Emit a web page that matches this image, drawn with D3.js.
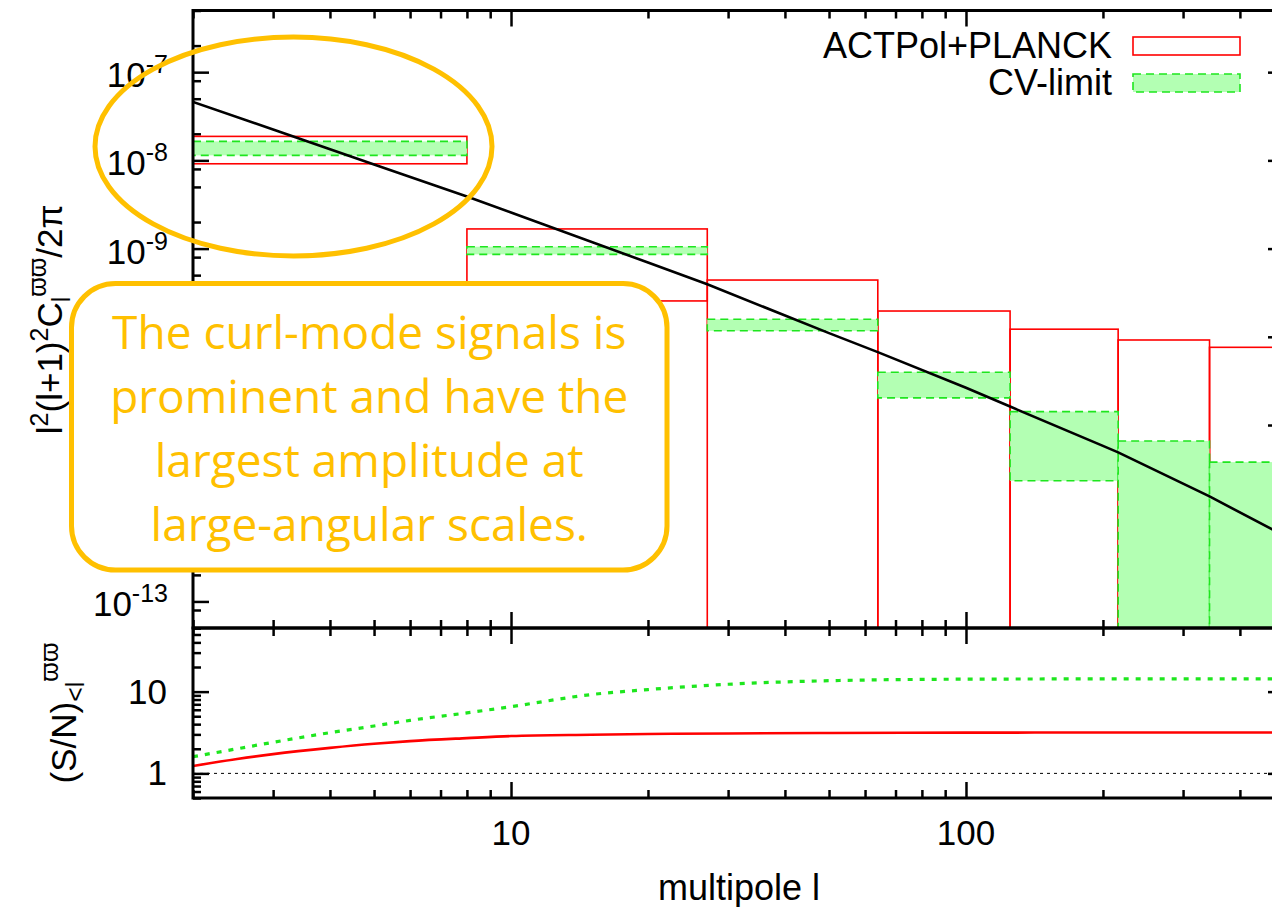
<!DOCTYPE html>
<html lang="en">
<head>
<meta charset="utf-8">
<script src="https://cdn.jsdelivr.net/npm/d3@7"></script>
<style>
  body { margin: 0; background: #fff; }
  svg { display: block; }
</style>
</head>
<body>
<div id="chart"></div>
<script>
  // ---- data ----
  // multipole bins (edges are cubes 2^3 .. 8^3, first bin starts at l=2)
  const binEdges = [2, 8, 27, 64, 125, 216, 343, 512];
  // ACTPol+PLANCK error boxes (0 = lower edge runs off the bottom of the plot)
  const actpolHi = [1.87e-8, 1.67e-9, 4.4e-10, 1.96e-10, 1.22e-10, 9.2e-11, 7.6e-11];
  const actpolLo = [9.15e-9, 2.55e-10, 0, 0, 0, 0, 0];
  // cosmic-variance limit boxes
  const cvHi = [1.64e-8, 1.05e-9, 1.58e-10, 3.97e-11, 1.42e-11, 6.6e-12, 3.8e-12];
  const cvLo = [1.14e-8, 8.6e-10, 1.17e-10, 2.03e-11, 2.33e-12, 0, 0];
  // theory curve
  const theoryL  = [2, 3, 5, 8, 10, 20, 27, 50, 64, 100, 125, 200, 216, 343, 470, 500];
  const theoryCl = [4.6e-8, 2.24e-8, 9.0e-9, 3.9e-9, 2.56e-9, 6.95e-10, 3.94e-10, 1.1e-10,
                    6.7e-11, 2.64e-11, 1.62e-11, 5.8e-12, 4.9e-12, 1.55e-12, 6.6e-13, 5.6e-13];
  // cumulative signal to noise
  const snL      = [2, 2.5, 3, 4, 5, 6, 8, 10, 15, 20, 30, 50, 100, 200, 500];
  const snActpol = [1.23, 1.5, 1.72, 2.05, 2.3, 2.48, 2.7, 2.86, 2.97, 3.03, 3.08, 3.12, 3.15, 3.16, 3.16];
  const snCV     = [1.6, 2.0, 2.4, 3.15, 3.8, 4.45, 5.5, 6.55, 9.2, 10.6, 12.3, 13.6, 14.2, 14.3, 14.3];

  const xTickLabels = [10, 100];
  const yTopTickExp = [-7, -8, -9, -10, -11, -12, -13];
  const yBotTickLabels = [1, 10];
  const legendNames = ["ACTPol+PLANCK", "CV-limit"];
  const noteLines = ["The curl-mode signals is", "prominent and have the",
                     "largest amplitude at", "large-angular scales."];

  // ---- layout ----
  const W = 1272, H = 907;
  const left = 193, right = 1284;
  const top1 = 10.5, mid = 628, bot2 = 798;
  const font = "'Liberation Sans', Arial, sans-serif";
  const fs = 35;
  const red = "#ff0000", green = "#1ee61e", greenFill = "#b3ffb3", orange = "#ffc000";
  const note = { x: 71.5, y: 283.5, w: 595.5, h: 286.5 };

  const x  = d3.scaleLog().domain([2, 500]).range([left, right]);
  const y1 = d3.scaleLog().domain([5e-14, 5e-7]).range([mid, top1]);
  const y2 = d3.scaleLog().domain([0.5, 60]).range([bot2, mid]);

  const svg = d3.select("#chart").append("svg")
    .attr("width", W).attr("height", H)
    .attr("font-family", font);

  const defs = svg.append("defs");
  defs.append("clipPath").attr("id", "clipTop").append("rect")
    .attr("x", left).attr("y", top1).attr("width", right - left).attr("height", mid - top1);
  defs.append("clipPath").attr("id", "clipBot").append("rect")
    .attr("x", left).attr("y", mid).attr("width", right - left).attr("height", bot2 - mid);

  // minor tick values
  const logMinor = (lo, hi, mults) => {
    const out = [];
    for (let k = Math.floor(Math.log10(lo)); k <= Math.ceil(Math.log10(hi)); k++)
      mults.forEach(m => { const v = m * Math.pow(10, k); if (v >= lo && v <= hi) out.push(v); });
    return out;
  };
  const xMajor = [10, 100];
  const xMinor = logMinor(2, 500, [2, 3, 4, 5, 6, 7, 8, 9]);
  const y1Major = yTopTickExp.map(e => Math.pow(10, e));
  const y1Minor = logMinor(5e-14, 5e-7, [2, 5, 8]);
  const y2Major = [1, 10];
  const y2Minor = logMinor(0.5, 60, [2, 3, 4, 5, 6, 7, 8, 9]);

  const drawTicks = (axis, tr, values, size) => {
    svg.append("g").attr("transform", tr)
      .call(axis.tickValues(values).tickSize(size).tickFormat(""))
      .call(g => g.select(".domain").remove())
      .call(g => g.selectAll("text").remove())
      .selectAll("line").attr("stroke", "#000").attr("stroke-width", 2.5);
  };

  // ticks (under the data, like gnuplot)
  [[xMajor, 16], [xMinor, 8]].forEach(([v, s]) => {
    drawTicks(d3.axisBottom(x), `translate(0,${top1})`, v, s);
    drawTicks(d3.axisTop(x), `translate(0,${mid})`, v, s);
    drawTicks(d3.axisBottom(x), `translate(0,${mid})`, v, s);
    drawTicks(d3.axisTop(x), `translate(0,${bot2})`, v, s);
  });
  [[y1Major, 16], [y1Minor, 8]].forEach(([v, s]) => {
    drawTicks(d3.axisRight(y1), `translate(${left},0)`, v, s);
    drawTicks(d3.axisLeft(y1), `translate(${right},0)`, v, s);
  });
  [[y2Major, 16], [y2Minor, 8]].forEach(([v, s]) => {
    drawTicks(d3.axisRight(y2), `translate(${left},0)`, v, s);
    drawTicks(d3.axisLeft(y2), `translate(${right},0)`, v, s);
  });

  // ---- top panel ----
  const topG = svg.append("g").attr("clip-path", "url(#clipTop)");
  const yOr = v => v > 0 ? y1(v) : mid + 5;
  const bins = binEdges.slice(0, -1).map((l0, i) => ({ l0, l1: binEdges[i + 1], i }));

  topG.selectAll("rect.act").data(bins).join("rect").attr("class", "act")
    .attr("x", d => x(d.l0)).attr("width", d => x(d.l1) - x(d.l0))
    .attr("y", d => y1(actpolHi[d.i])).attr("height", d => yOr(actpolLo[d.i]) - y1(actpolHi[d.i]))
    .attr("fill", "none").attr("stroke", red).attr("stroke-width", 1.6);

  topG.selectAll("rect.cv").data(bins).join("rect").attr("class", "cv")
    .attr("x", d => x(d.l0)).attr("width", d => x(d.l1) - x(d.l0))
    .attr("y", d => y1(cvHi[d.i])).attr("height", d => yOr(cvLo[d.i]) - y1(cvHi[d.i]))
    .attr("fill", greenFill).attr("stroke", green).attr("stroke-width", 1.6)
    .attr("stroke-dasharray", "8,5");

  topG.append("path")
    .attr("d", d3.line().x(d => x(d[0])).y(d => y1(d[1]))(d3.zip(theoryL, theoryCl)))
    .attr("fill", "none").attr("stroke", "#000").attr("stroke-width", 2.6);

  // ---- bottom panel ----
  const botG = svg.append("g").attr("clip-path", "url(#clipBot)");
  botG.append("line").attr("x1", left).attr("x2", right).attr("y1", y2(1)).attr("y2", y2(1))
    .attr("stroke", "#000").attr("stroke-width", 1).attr("stroke-dasharray", "3,4");
  const snLine = vals => d3.line().x(d => x(d[0])).y(d => y2(d[1])).curve(d3.curveMonotoneX)(d3.zip(snL, vals));
  botG.append("path").attr("d", snLine(snActpol))
    .attr("fill", "none").attr("stroke", red).attr("stroke-width", 2.6);
  botG.append("path").attr("d", snLine(snCV))
    .attr("fill", "none").attr("stroke", green).attr("stroke-width", 3.2)
    .attr("stroke-dasharray", "5,7");

  // frames
  [[top1, mid], [mid, bot2]].forEach(([a, b]) =>
    svg.append("rect").attr("x", left).attr("y", a).attr("width", right - left).attr("height", b - a)
      .attr("fill", "none").attr("stroke", "#000").attr("stroke-width", 3));

  // ---- tick labels (those hidden under the note box are not drawn) ----
  yTopTickExp.forEach(e => {
    const ty = y1(Math.pow(10, e));
    if (ty > note.y - 10 && ty < note.y + note.h + 10) return;
    const t = svg.append("text").attr("x", 168).attr("y", ty + 15)
      .attr("text-anchor", "end").attr("font-size", fs);
    t.append("tspan").text("10");
    t.append("tspan").attr("dy", -14).attr("font-size", 25).text(e);
  });
  yBotTickLabels.forEach(v => svg.append("text").attr("x", 167).attr("y", y2(v) + 12)
    .attr("text-anchor", "end").attr("font-size", fs).text(v));
  xTickLabels.forEach(v => svg.append("text").attr("x", x(v)).attr("y", 845)
    .attr("text-anchor", "middle").attr("font-size", fs).text(v));

  svg.append("text").attr("x", 739).attr("y", 900)
    .attr("text-anchor", "middle").attr("font-size", 36).text("multipole l");

  // axis titles
  const yt = svg.append("text").attr("font-size", fs).attr("text-anchor", "middle")
    .attr("transform", `translate(62,${(top1 + mid) / 2}) rotate(-90)`);
  yt.append("tspan").text("l");
  yt.append("tspan").attr("font-size", 25).attr("dy", -14).text("2");
  yt.append("tspan").attr("dy", 14).text("(l+1)");
  yt.append("tspan").attr("font-size", 25).attr("dy", -14).text("2");
  yt.append("tspan").attr("dy", 14).text("C");
  yt.append("tspan").attr("font-size", 25).attr("dy", 8).text("l");
  yt.append("tspan").attr("font-size", 25).attr("dy", -24).text("ϖϖ");
  yt.append("tspan").attr("dy", 16).text("/2π");

  const yb = svg.append("text").attr("font-size", fs).attr("text-anchor", "middle")
    .attr("transform", `translate(76,${(mid + bot2) / 2}) rotate(-90)`);
  yb.append("tspan").text("(S/N)");
  yb.append("tspan").attr("font-size", 25).attr("dy", 8).text("<l");
  yb.append("tspan").attr("font-size", 25).attr("dy", -26).text("ϖϖ");

  // ---- legend ----
  legendNames.forEach((name, i) => {
    const by = [58, 95][i];
    svg.append("text").attr("x", 1112).attr("y", by).attr("text-anchor", "end")
      .attr("font-size", 36).text(name);
    const r = svg.append("rect").attr("x", 1133).attr("y", by - 21).attr("width", 107).attr("height", 18)
      .attr("stroke-width", 1.6);
    if (i === 0) r.attr("fill", "none").attr("stroke", red);
    else r.attr("fill", greenFill).attr("stroke", green).attr("stroke-dasharray", "8,5");
  });

  // ---- annotation ----
  svg.append("ellipse").attr("cx", 293.5).attr("cy", 146.5).attr("rx", 198.5).attr("ry", 109.5)
    .attr("fill", "none").attr("stroke", orange).attr("stroke-width", 5);
  svg.append("rect").attr("x", note.x).attr("y", note.y).attr("width", note.w).attr("height", note.h)
    .attr("rx", 44).attr("fill", "#fff").attr("stroke", orange).attr("stroke-width", 5);
  noteLines.forEach((s, i) => svg.append("text")
    .attr("x", note.x + note.w / 2).attr("y", 349 + i * 64).attr("text-anchor", "middle")
    .attr("font-family", "'Open Sans', sans-serif").attr("font-size", 46)
    .attr("fill", orange).text(s));
</script>
</body>
</html>
